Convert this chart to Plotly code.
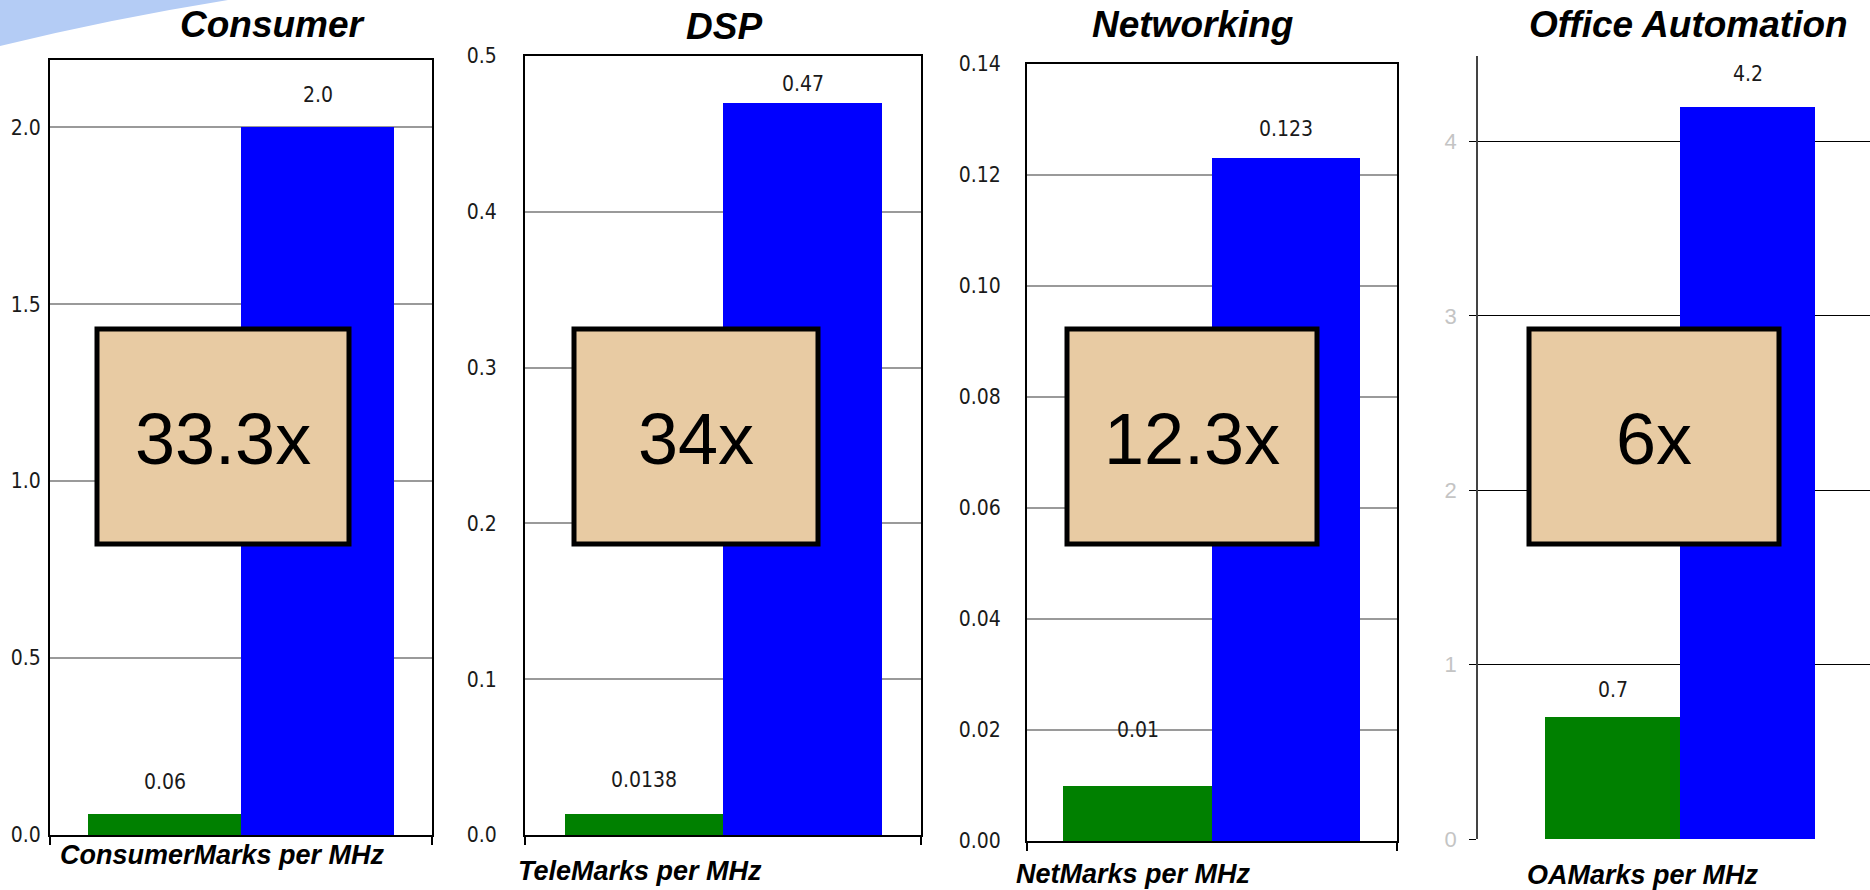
import plotly.graph_objects as go

# ---- data -------------------------------------------------------------
categories = ["Consumer", "DSP", "Networking", "Office Automation"]
axis_titles = ["ConsumerMarks per MHz", "TeleMarks per MHz",
               "NetMarks per MHz", "OAMarks per MHz"]
green_values = [0.06, 0.0138, 0.01, 0.7]
blue_values = [2.0, 0.47, 0.123, 4.2]
green_labels = ["0.06", "0.0138", "0.01", "0.7"]
blue_labels = ["2.0", "0.47", "0.123", "4.2"]
speedups = ["33.3x", "34x", "12.3x", "6x"]
tick_values = [
    [0.0, 0.5, 1.0, 1.5, 2.0],
    [0.0, 0.1, 0.2, 0.3, 0.4, 0.5],
    [0.0, 0.02, 0.04, 0.06, 0.08, 0.10, 0.12, 0.14],
    [0, 1, 2, 3, 4],
]
tick_labels = [
    ["0.0", "0.5", "1.0", "1.5", "2.0"],
    ["0.0", "0.1", "0.2", "0.3", "0.4", "0.5"],
    ["0.00", "0.02", "0.04", "0.06", "0.08", "0.10", "0.12", "0.14"],
    ["0", "1", "2", "3", "4"],
]
y_max = [2.19, 0.5, 0.14, 4.49]

# ---- layout geometry (page pixels) ---------------------------------------
W, H = 1870, 890

plot_px = [  # left, right, top, bottom of each plotting area
    (50, 432, 60, 835),
    (525, 921, 56, 835),
    (1027, 1397, 64, 841),
    (1478, 1870, 56, 839),
]
x_ranges = [[-0.75, 1.745], [-0.75, 1.745], [-0.745, 1.747], [-1.0, 1.904]]
label_shift = [(32, 32), (34, 19), (56, 29), (27, 33)]   # green, blue
tick_standoff = [3, 22, 20, 8]
box_px = [(97, 349, 329, 544), (574, 818, 329, 544),
          (1067, 1317, 329, 544), (1529, 1779, 329, 544)]
title_px = [(273, 25), (724, 26), (1192, 25), (1688, 24)]
xtitle_px = [(222, 855), (640, 871), (1133, 874), (1643, 875)]

GREEN, BLUE = "#008000", "#0000ff"
NARROW = "Liberation Sans Narrow, Arial Narrow, DejaVu Sans Condensed, sans-serif"
ARIAL = "Liberation Sans, Arial, Helvetica, sans-serif"


def px_x(v):
    return v / W


def px_y(v):
    return 1 - v / H


fig = go.Figure()
layout = dict(
    width=W, height=H,
    margin=dict(l=0, r=0, t=0, b=0, pad=0, autoexpand=False),
    paper_bgcolor="white", plot_bgcolor="white",
    showlegend=False, barmode="overlay", bargap=0,
)
annotations, shapes = [], []

# light blue swoosh in the top-left corner
shapes.append(dict(
    type="path", xref="paper", yref="paper", layer="below",
    path=f"M 0,1 L {px_x(228)},1 Q {px_x(110)},{px_y(19)} 0,{px_y(46)} Z",
    fillcolor="#b4ccf5", line=dict(width=0),
))

for i in range(4):
    sfx = "" if i == 0 else str(i + 1)
    xa, ya = "x" + sfx, "y" + sfx
    left, right, top, bottom = plot_px[i]
    framed = i < 3

    for xpos, val, col in ((0, green_values[i], GREEN), (1, blue_values[i], BLUE)):
        fig.add_trace(go.Bar(
            x=[xpos], y=[val], width=[1.0], marker=dict(color=col, line=dict(width=0)),
            xaxis=xa, yaxis=ya, hoverinfo="skip",
        ))

    layout["xaxis" + sfx] = dict(
        domain=[px_x(left), px_x(right)], range=x_ranges[i], anchor=ya,
        showgrid=False, zeroline=False, showticklabels=False, fixedrange=True,
        showline=framed, mirror=framed, linecolor="black", linewidth=2,
        ticks="outside" if framed else "", tickvals=x_ranges[i] if framed else [],
        ticklen=8, tickwidth=2, tickcolor="black", automargin=False,
    )
    layout["yaxis" + sfx] = dict(
        domain=[px_y(bottom), px_y(top)], range=[0, y_max[i]], anchor=xa,
        tickvals=tick_values[i], ticktext=tick_labels[i],
        zeroline=False, fixedrange=True, automargin=False,
        showgrid=True,
        gridcolor="#9a9a9a" if framed else "black",
        gridwidth=1.5 if framed else 1,
        showline=True, mirror=framed,
        linecolor="black" if framed else "#444444",
        linewidth=2 if framed else 1.5,
        ticks="" if framed else "outside", ticklen=7, tickwidth=1, tickcolor="black",
        ticklabelstandoff=tick_standoff[i],
        tickfont=dict(family=NARROW, size=21, color="#1a1a1a") if framed
        else dict(family=ARIAL, size=22, color="#c4c4c4"),
    )

    # value labels above the bars
    for xpos, val, txt, shift in ((0, green_values[i], green_labels[i], label_shift[i][0]),
                                  (1, blue_values[i], blue_labels[i], label_shift[i][1])):
        annotations.append(dict(
            x=xpos, y=val, xref=xa, yref=ya, text=txt, showarrow=False,
            yanchor="middle", yshift=shift,
            font=dict(family=NARROW, size=21, color="#1a1a1a"),
        ))

    # panel title and axis caption
    tx, ty = title_px[i]
    annotations.append(dict(
        x=px_x(tx), y=px_y(ty), xref="paper", yref="paper", showarrow=False,
        text=f"<b><i>{categories[i]}</i></b>", xanchor="center", yanchor="middle",
        font=dict(family=ARIAL, size=37, color="black"),
    ))
    cx, cy = xtitle_px[i]
    annotations.append(dict(
        x=px_x(cx), y=px_y(cy), xref="paper", yref="paper", showarrow=False,
        text=f"<b><i>{axis_titles[i]}</i></b>", xanchor="center", yanchor="middle",
        font=dict(family=ARIAL, size=27, color="black"),
    ))

    # speed-up callout box
    bl, br, bt, bb = box_px[i]
    shapes.append(dict(
        type="rect", xref="paper", yref="paper", layer="above",
        x0=px_x(bl), x1=px_x(br), y0=px_y(bb), y1=px_y(bt),
        fillcolor="#e8cba3", line=dict(color="black", width=5),
    ))
    annotations.append(dict(
        x=px_x((bl + br) / 2), y=px_y((bt + bb) / 2 + 2), xref="paper", yref="paper",
        text=speedups[i], showarrow=False, xanchor="center", yanchor="middle",
        font=dict(family=ARIAL, size=72, color="black"),
    ))

layout["annotations"] = annotations
layout["shapes"] = shapes
fig.update_layout(**layout)
fig.write_html("out.html")
